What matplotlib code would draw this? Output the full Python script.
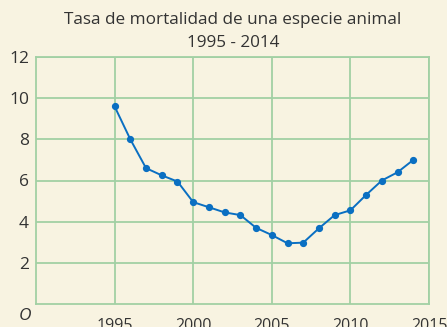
import matplotlib.pyplot as plt

# Tasa de mortalidad por año
years = [1995, 1996, 1997, 1998, 1999, 2000, 2001, 2002, 2003, 2004,
         2005, 2006, 2007, 2008, 2009, 2010, 2011, 2012, 2013, 2014]
rates = [9.6, 8.0, 6.6, 6.25, 5.95, 4.95, 4.7, 4.45, 4.32, 3.7,
         3.35, 2.95, 2.98, 3.68, 4.32, 4.55, 5.3, 6.0, 6.4, 7.0]

x_ticks = [1995, 2000, 2005, 2010, 2015]
y_ticks = [2, 4, 6, 8, 10, 12]

BG = '#f8f3e1'
GRID = '#a2d0a4'
LINE = '#0a6fc2'
TEXT = '#333333'

plt.rcParams['font.family'] = ['Open Sans', 'DejaVu Sans']

fig = plt.figure(figsize=(4.47, 3.27), dpi=100, facecolor=BG)
ax = fig.add_axes([36 / 447, 1 - 304 / 327, (429 - 36) / 447, (304 - 57) / 327])
ax.set_facecolor(BG)

ax.plot(years, rates, color=LINE, linewidth=1.4, marker='o', markersize=4.2,
        zorder=3, clip_on=False)

ax.set_xlim(1990, 2015)
ax.set_ylim(0, 12)
ax.set_xticks(x_ticks)
ax.set_yticks(y_ticks)
ax.grid(True, color=GRID, linewidth=1.3)
for side in ax.spines.values():
    side.set_color(GRID)
    side.set_linewidth(1.3)
ax.tick_params(axis='y', length=0, labelsize=12.5, colors=TEXT, pad=5)
ax.tick_params(axis='x', length=0, labelsize=11.5, colors=TEXT, pad=10)

ax.text(-0.012, -0.015, 'O', transform=ax.transAxes, ha='right', va='top',
        fontsize=12.5, style='italic', color=TEXT)

# two-line title, centred over the plot area
fig.text(233 / 447, 1 - 20 / 327, 'Tasa de mortalidad de una especie animal',
         ha='center', va='center', fontsize=12.3, color=TEXT)
fig.text(233 / 447, 1 - 43 / 327, '1995 - 2014',
         ha='center', va='center', fontsize=12.3, color=TEXT)

fig.savefig('out.png', dpi=100, facecolor=BG)
